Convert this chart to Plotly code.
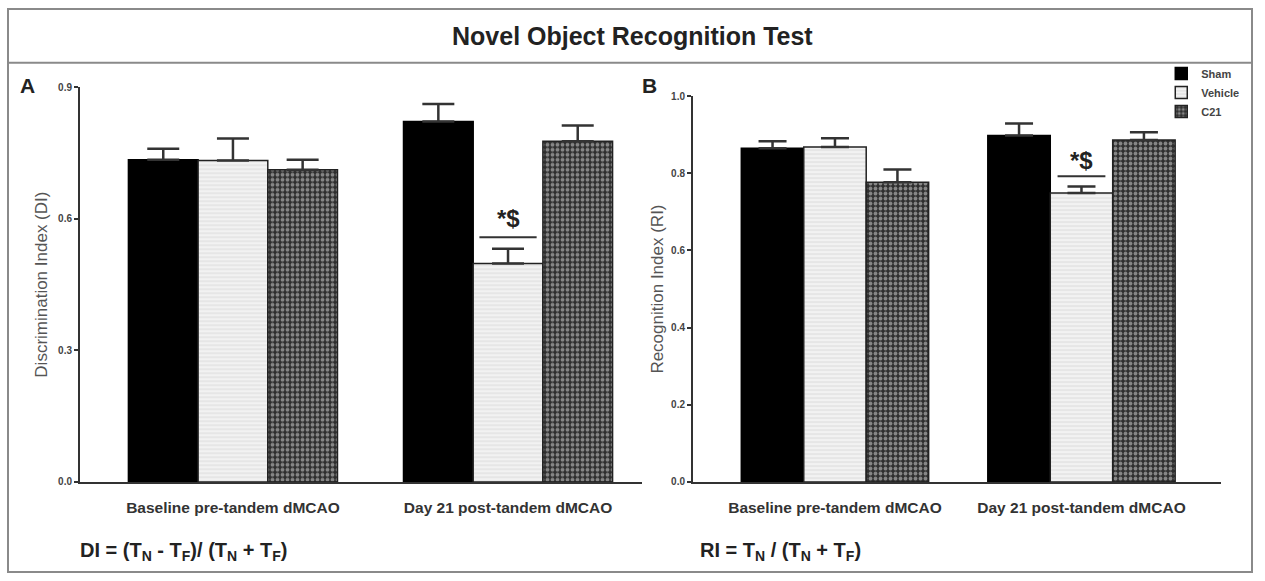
import plotly.graph_objects as go
from plotly.subplots import make_subplots

categories = ["Baseline pre-tandem dMCAO", "Day 21 post-tandem dMCAO"]
groups = ["Sham", "Vehicle", "C21"]

# Panel A: Discrimination Index
di_mean = {"Sham": [0.735, 0.822], "Vehicle": [0.733, 0.498], "C21": [0.712, 0.777]}
di_err = {"Sham": [0.025, 0.040], "Vehicle": [0.050, 0.034], "C21": [0.023, 0.036]}

# Panel B: Recognition Index
ri_mean = {"Sham": [0.865, 0.898], "Vehicle": [0.868, 0.749], "C21": [0.777, 0.886]}
ri_err = {"Sham": [0.018, 0.031], "Vehicle": [0.023, 0.017], "C21": [0.033, 0.020]}

a_ticks = [0.0, 0.3, 0.6, 0.9]
b_ticks = [0.0, 0.2, 0.4, 0.6, 0.8, 1.0]

sig_text = "*$"

styles = {
    "Sham": dict(color="black", line=dict(color="black", width=1.5)),
    "Vehicle": dict(color="#f0f0f0", line=dict(color="#222", width=1.5),
                    pattern=dict(shape="-", bgcolor="#f2f2f2", fgcolor="#c4c4c4", size=4, solidity=0.25)),
    "C21": dict(color="#333", line=dict(color="#222", width=1.5),
                pattern=dict(shape=".", bgcolor="#2e2e2e", fgcolor="#e0e0e0", size=5, solidity=0.45)),
}

fig = make_subplots(rows=1, cols=2)

for g in groups:
    fig.add_trace(go.Bar(
        x=categories, y=di_mean[g], name="<b>%s</b>" % g, marker=styles[g], showlegend=True,
        legendgroup=g,
        error_y=dict(type="data", array=di_err[g], arrayminus=[0, 0], symmetric=False,
                     color="#333", thickness=2.5, width=16),
    ), row=1, col=1)
for g in groups:
    fig.add_trace(go.Bar(
        x=categories, y=ri_mean[g], name="<b>%s</b>" % g, marker=styles[g], showlegend=False,
        legendgroup=g,
        error_y=dict(type="data", array=ri_err[g], arrayminus=[0, 0], symmetric=False,
                     color="#333", thickness=2.5, width=14),
    ), row=1, col=2)

tickfont = dict(family="Liberation Sans", size=10, color="#444")
catfont = dict(family="Liberation Sans", size=15.5, color="#333")
axis_common = dict(showgrid=False, zeroline=False, showline=True, linecolor="#333", linewidth=2)

fig.update_layout(
    width=1265, height=581, margin=dict(l=0, r=0, t=0, b=0),
    paper_bgcolor="white", plot_bgcolor="white",
    barmode="group", bargap=0.24, bargroupgap=0,
    font=dict(family="Liberation Sans", color="#333"),
    legend=dict(x=0.918, y=0.907, xanchor="left", yanchor="top",
                font=dict(family="Liberation Sans", size=11, color="#444"),
                tracegroupgap=0, itemwidth=30, bgcolor="rgba(0,0,0,0)"),
    xaxis=dict(domain=[80/1265, 642/1265], range=[-0.556, 1.487], type="category",
               tickvals=categories, ticktext=["<b>%s</b>" % c for c in categories],
               tickfont=catfont, ticks="", ticklabelstandoff=10, **axis_common),
    xaxis2=dict(domain=[693/1265, 1221/1265], range=[-0.576, 1.566], type="category",
                tickvals=categories, ticktext=["<b>%s</b>" % c for c in categories],
                tickfont=catfont, ticks="", ticklabelstandoff=10, **axis_common),
    yaxis=dict(domain=[1-486/581, 1-83/581], range=[0, 0.9], tickvals=a_ticks,
               ticktext=["<b>%.1f</b>" % v for v in a_ticks], tickfont=tickfont,
               ticks="outside", ticklen=4, tickwidth=1.5, tickcolor="#333",
               title=dict(text="Discrimination Index (DI)", font=dict(size=17, color="#555"), standoff=6),
               **axis_common),
    yaxis2=dict(domain=[1-486/581, 1-92/581], range=[0, 1.0], tickvals=b_ticks,
                ticktext=["<b>%.1f</b>" % v for v in b_ticks], tickfont=tickfont,
                ticks="outside", ticklen=4, tickwidth=1.5, tickcolor="#333",
                title=dict(text="Recognition Index (RI)", font=dict(size=17, color="#555"), standoff=3),
                **axis_common),
)

# borders
border = dict(color="#8a8a8a", width=2)
fig.add_shape(type="rect", xref="paper", yref="paper", x0=8/1265, x1=1252/1265,
              y0=1-578/581, y1=1-3/581, line=border)
fig.add_shape(type="line", xref="paper", yref="paper", x0=8/1265, x1=1252/1265,
              y0=1-58/581, y1=1-58/581, line=border)

# title
fig.add_annotation(text="<b>Novel Object Recognition Test</b>", xref="paper", yref="paper",
                   x=632/1265, y=1-31/581, xanchor="center", yanchor="middle", showarrow=False,
                   font=dict(family="Liberation Sans", size=25, color="#222"))
# panel letters
fig.add_annotation(text="<b>A</b>", xref="paper", yref="paper", x=27/1265, y=1-81/581,
                   xanchor="center", yanchor="middle",
                   showarrow=False, font=dict(size=21, color="#222"))
fig.add_annotation(text="<b>B</b>", xref="paper", yref="paper", x=649/1265, y=1-81/581,
                   xanchor="center", yanchor="middle",
                   showarrow=False, font=dict(size=21, color="#222"))
# formulas
fig.add_annotation(text="<b>DI = (T<sub>N</sub> - T<sub>F</sub>)/ (T<sub>N</sub> + T<sub>F</sub>)</b>",
                   xref="paper", yref="paper", x=78/1265, y=1-557/581, xanchor="left", yanchor="middle",
                   showarrow=False, font=dict(size=20, color="#222"))
fig.add_annotation(text="<b>RI = T<sub>N</sub> / (T<sub>N</sub> + T<sub>F</sub>)</b>",
                   xref="paper", yref="paper", x=698/1265, y=1-557/581, xanchor="left", yanchor="middle",
                   showarrow=False, font=dict(size=20, color="#222"))

# significance marks over Day 21 vehicle
for xr, yr, mean, err, half in [("x", "y", di_mean, di_err, 0.104), ("x2", "y2", ri_mean, ri_err, 0.097)]:
    top = mean["Vehicle"][1] + err["Vehicle"][1]
    fig.add_shape(type="line", xref=xr, yref=yr, x0=1-half, x1=1+half,
                  y0=top + 0.026, y1=top + 0.026, line=dict(color="#333", width=2))
    fig.add_annotation(text="<b>%s</b>" % sig_text, xref=xr, yref=yr, x=1, y=top + 0.068,
                       xanchor="center", yanchor="middle",
                       showarrow=False, font=dict(size=24, color="#222"))

fig.write_html("out.html")
